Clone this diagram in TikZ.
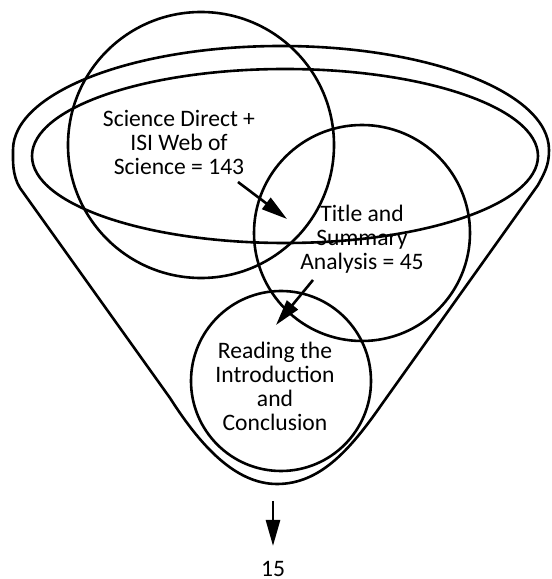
\documentclass[tikz,border=0pt]{standalone}
\usepackage{fontspec}
\setmainfont{Carlito}
\usetikzlibrary{arrows.meta}

\begin{document}
\begin{tikzpicture}[x=0.5pt,y=0.5pt,line width=1.3pt,
  ring/.style={draw,circle,inner sep=0pt},
  stagetext/.style={align=center,font=\fontsize{11.8pt}{12pt}\selectfont},
  flow/.style={-{Triangle[length=13pt,width=7pt]}}]
\useasboundingbox (0,0) rectangle (552,579);

\draw (13,429) arc[start angle=180,end angle=0,x radius=268,y radius=104]
  .. controls (549,414) and (545,407) .. (538,394) -- (382,175)
  .. controls (350,129) and (320,95) .. (277,95)
  .. controls (235,95) and (200,134) .. (170,181) -- (20,391)
  .. controls (12,404) and (13,419) .. cycle;
\draw (285,423) ellipse[x radius=253,y radius=87];

\node[ring,minimum size=133pt] (search) at (201,434) {};
\node[ring,minimum size=108pt] (screen) at (362,346) {};
\node[ring,minimum size=90pt] (reading) at (281,198) {};

\node[stagetext] (searchtext) at (179,437) {Science Direct +\\ISI Web of\\Science = 143};
\node[stagetext] (screentext) at (362,340) {Title and\\Summary\\Analysis = 45};
\node[stagetext] (readingtext) at (275,193) {Reading the\\Introduction\\and\\Conclusion};
\node[stagetext,anchor=base,inner sep=0pt] (result) at (273,3) {15};

\coordinate (from1) at (238,397);
\coordinate (to1) at (287,360);
\coordinate (from2) at (313,299);
\coordinate (to2) at (276,254);
\coordinate (from3) at (273,78);
\coordinate (to3) at (273,33);
\draw[flow] (from1) -- (to1);
\draw[flow] (from2) -- (to2);
\draw[flow] (from3) -- (to3);
\end{tikzpicture}
\end{document}
